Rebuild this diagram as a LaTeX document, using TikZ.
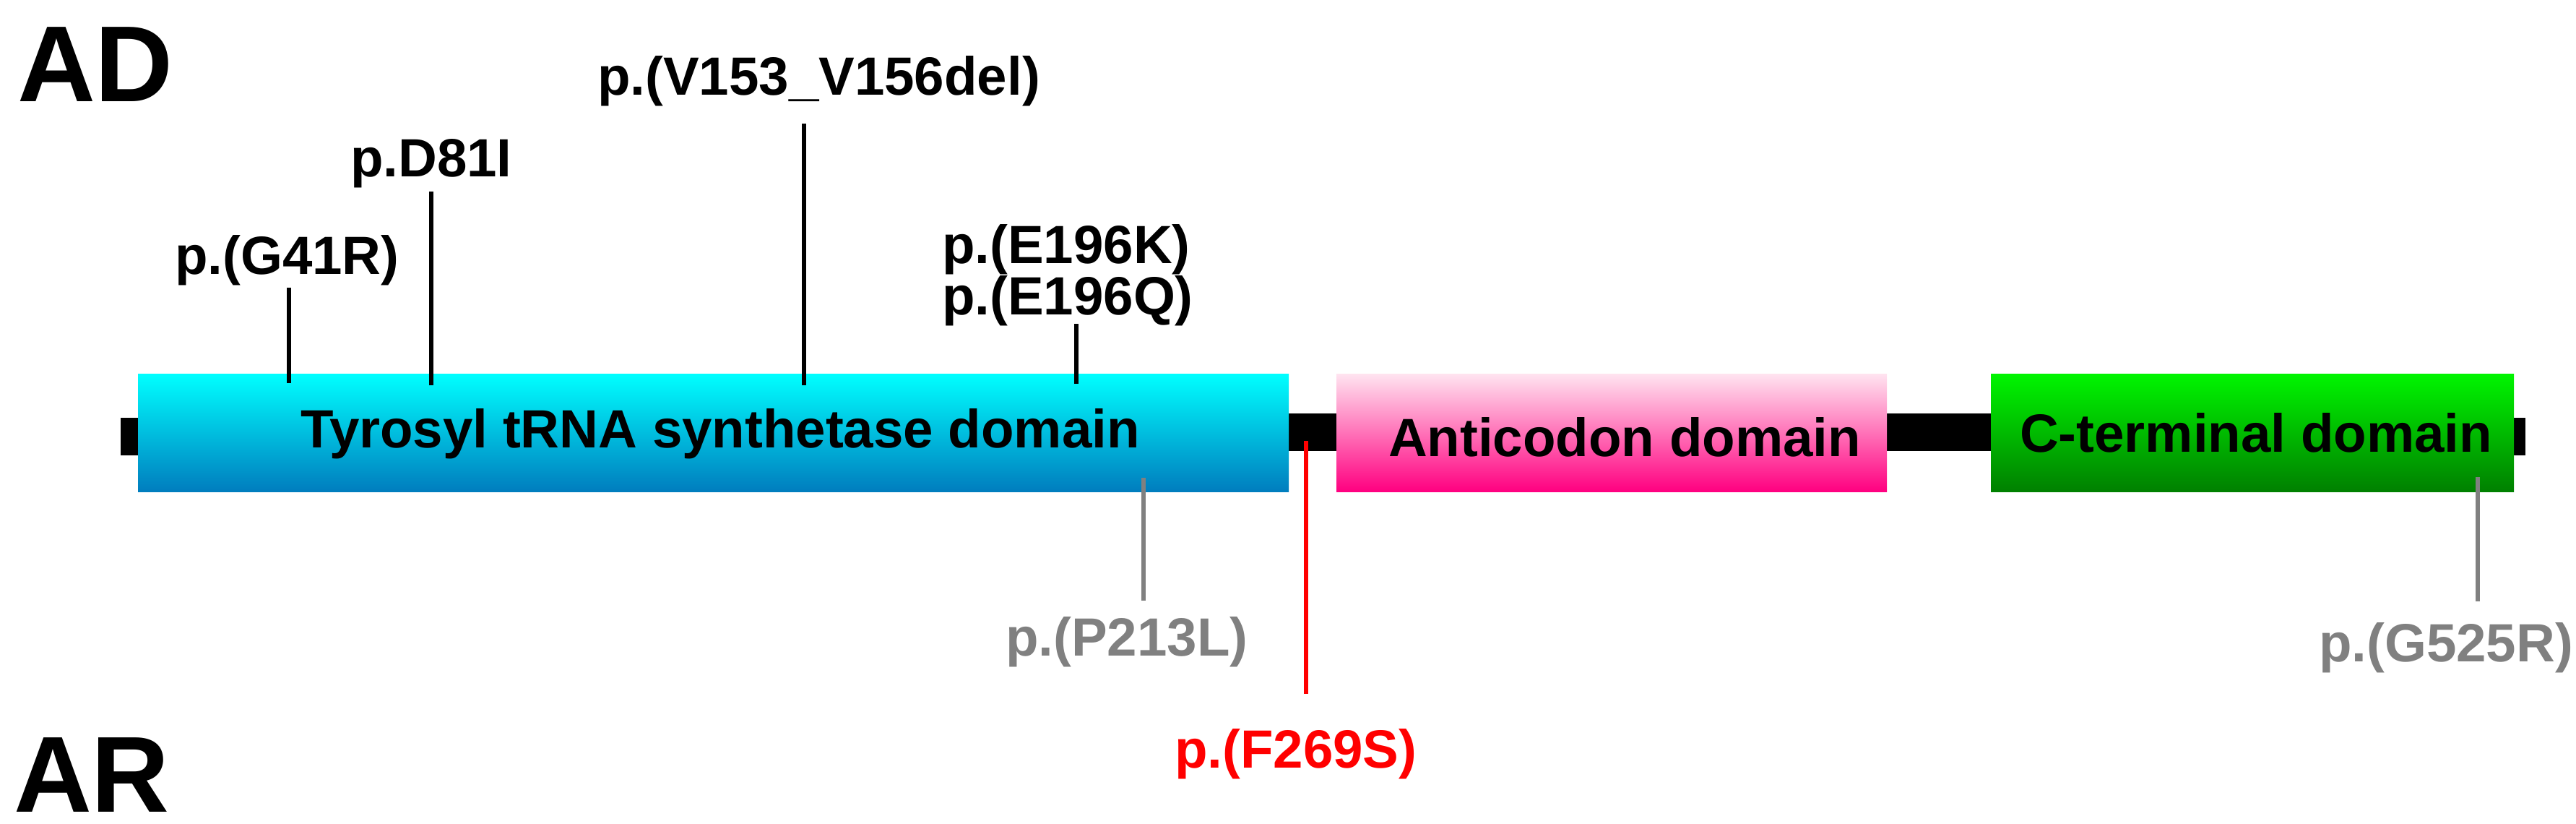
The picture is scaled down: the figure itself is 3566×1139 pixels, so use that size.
\documentclass[tikz,border=0pt]{standalone}
\usepackage{fontspec}
\setmainfont{Liberation Sans}
\definecolor{cyanTop}{RGB}{0,255,255}
\definecolor{cyanBot}{RGB}{0,125,190}
\definecolor{pinkTop}{RGB}{255,228,240}
\definecolor{pinkBot}{RGB}{255,0,128}
\definecolor{greenTop}{RGB}{0,245,0}
\definecolor{greenBot}{RGB}{0,128,0}
\definecolor{mutgray}{RGB}{128,128,128}
\begin{document}
\begin{tikzpicture}[x=0.2pt,y=-0.2pt,
  lbl/.style={font=\fontsize{14.9pt}{17pt}\selectfont\bfseries, inner sep=0pt, anchor=base west},
  big/.style={font=\fontsize{29.9pt}{34pt}\selectfont\bfseries, inner sep=0pt, anchor=base west},
  dombox/.style={inner sep=0pt, anchor=north west, minimum height=32.6pt, draw=none},
  mut/.style={line width=1.3pt},
  bar/.style={fill=black}]
\useasboundingbox (0,0) rectangle (3566,1139);
% backbone
\fill[bar] (167,578) rectangle (192,630);
\fill[bar] (1780,572) rectangle (1851,624);
\fill[bar] (2608,572) rectangle (2757,624);
\fill[bar] (3477,578) rectangle (3496,630);
% domains
\node[dombox, minimum width=318.6pt, top color=cyanTop, bottom color=cyanBot] (tyr) at (190,516) {};
\node[dombox, minimum width=152.4pt, top color=pinkTop, bottom color=pinkBot] (anti) at (1849,516) {};
\node[dombox, minimum width=144.8pt, top color=greenTop, bottom color=greenBot] (cterm) at (2755,516) {};
\node[lbl] (tyrtxt) at (415,619.5) {Tyrosyl tRNA synthetase domain};
\node[lbl] (antitxt) at (1921,631) {Anticodon domain};
\node[lbl] (ctermtxt) at (2795,625) {C-terminal domain};
% headings
\node[big] (ad) at (23,140) {AD};
\node[big] (ar) at (18,1123) {AR};
% AD mutations
\node[lbl] (g41) at (241,379) {p.(G41R)};
\node[lbl] (d81) at (484,244) {p.D81I};
\node[lbl] (v153) at (826,131) {p.(V153\_V156del)};
\node[lbl] (e196k) at (1303,364) {p.(E196K)};
\node[lbl] (e196q) at (1303,435) {p.(E196Q)};
\coordinate (g41a) at (400,530); \coordinate (g41b) at (400,398);
\coordinate (d81a) at (597,533); \coordinate (d81b) at (597,265);
\coordinate (v153a) at (1113,533); \coordinate (v153b) at (1113,171);
\coordinate (e196a) at (1490,531); \coordinate (e196b) at (1490,448);
\draw[mut] (g41a) -- (g41b);
\draw[mut] (d81a) -- (d81b);
\draw[mut] (v153a) -- (v153b);
\draw[mut] (e196a) -- (e196b);
% AR mutations
\node[lbl, text=mutgray] (p213) at (1391,907) {p.(P213L)};
\node[lbl, text=red] (f269) at (1625,1062) {p.(F269S)};
\node[lbl, text=mutgray] (g525) at (3209,915) {p.(G525R)};
\coordinate (p213a) at (1583,661); \coordinate (p213b) at (1583,831);
\coordinate (f269a) at (1808,610); \coordinate (f269b) at (1808,960);
\coordinate (g525a) at (3430,660); \coordinate (g525b) at (3430,832);
\draw[mut, mutgray] (p213a) -- (p213b);
\draw[mut, red] (f269a) -- (f269b);
\draw[mut, mutgray] (g525a) -- (g525b);
\end{tikzpicture}
\end{document}
